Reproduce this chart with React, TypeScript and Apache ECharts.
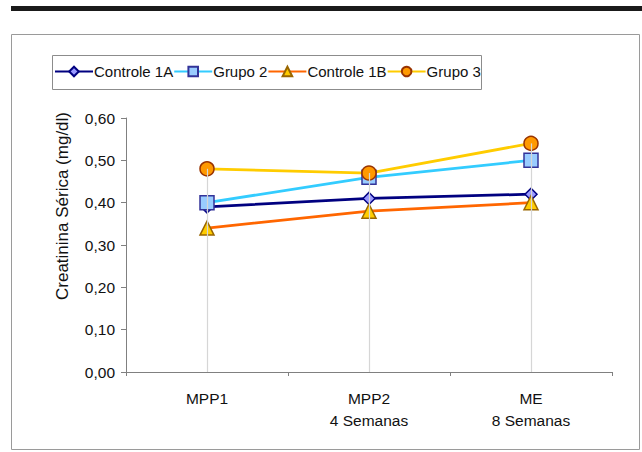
import React, { useEffect, useRef } from "react";
import * as echarts from "echarts";

const categories = ["MPP1", "MPP2\n4 Semanas", "ME\n8 Semanas"];
const controle1A = [0.39, 0.41, 0.42];
const grupo2 = [0.4, 0.46, 0.5];
const controle1B = [0.34, 0.38, 0.4];
const grupo3 = [0.48, 0.47, 0.54];
const yTicks = [0, 0.1, 0.2, 0.3, 0.4, 0.5, 0.6];

const FONT = "Liberation Sans, Arial, sans-serif";

export default function App() {
  const ref = useRef<HTMLDivElement>(null);
  useEffect(() => {
    document.body.style.margin = "0";
    const chart = echarts.init(ref.current!, undefined, { renderer: "svg" });
    const maxes = categories.map((_, i) =>
      Math.max(controle1A[i], grupo2[i], controle1B[i], grupo3[i])
    );
    const mk = (
      name: string,
      data: number[],
      line: string,
      symbol: string,
      size: number,
      fill: string,
      border: string
    ) => ({
      name,
      type: "line",
      data,
      symbol,
      symbolSize: size,
      showAllSymbol: true,
      z: 3,
      lineStyle: { color: line, width: 2.75 },
      itemStyle: { color: fill, borderColor: border, borderWidth: 1.5 },
    });
    chart.setOption({
      animation: false,
      textStyle: { fontFamily: FONT },
      grid: { left: 126, right: 30, top: 118, bottom: 80, containLabel: false },
      legend: {
        left: 54,
        top: 64,
        orient: "horizontal",
        padding: 0,
        itemGap: 0,
        itemWidth: 38,
        itemHeight: 12,
        data: ["Controle 1A", "Grupo 2", "Controle 1B", "Grupo 3"],
        textStyle: { fontSize: 15, color: "#111", fontFamily: FONT, padding: [0, 0, 0, -4] },
      },
      xAxis: {
        type: "category",
        data: categories,
        boundaryGap: true,
        axisLine: { lineStyle: { color: "#808080", width: 1 } },
        axisTick: { show: true, length: 4, lineStyle: { color: "#808080" } },
        axisLabel: { color: "#111", fontSize: 15.5, margin: 15, lineHeight: 22, fontFamily: FONT },
        splitLine: { show: false },
      },
      yAxis: {
        type: "value",
        min: 0,
        max: 0.6,
        interval: 0.1,
        axisLine: { show: true, lineStyle: { color: "#808080", width: 1 } },
        axisTick: { show: true, length: 5, lineStyle: { color: "#808080" } },
        axisLabel: {
          color: "#111",
          fontSize: 15.5,
          margin: 11,
          fontFamily: FONT,
          formatter: (v: number) =>
            yTicks.some((t) => Math.abs(t - v) < 1e-9) ? v.toFixed(2).replace(".", ",") : "",
        },
        splitLine: { show: false },
      },
      series: [
        {
          name: "drop",
          type: "line",
          data: [],
          z: 1,
          silent: true,
          markLine: {
            silent: true,
            symbol: "none",
            label: { show: false },
            lineStyle: { color: "#d6d6d6", width: 1.2, type: "solid" },
            data: categories.map((c, i) => [
              { coord: [c, 0] },
              { coord: [c, maxes[i]] },
            ]),
          },
        },
        mk("Controle 1A", controle1A, "#000080", "diamond", 12, "#9999FF", "#000080"),
        mk("Grupo 2", grupo2, "#33CCFF", "rect", 14, "#99CCFF", "#333399"),
        mk("Controle 1B", controle1B, "#FF6600", "triangle", 14, "#FFCC00", "#996600"),
        mk("Grupo 3", grupo3, "#FFCC00", "circle", 14, "#FF9900", "#993300"),
      ],
      graphic: [
        { type: "rect", shape: { x: 11, y: 6, width: 631, height: 5 }, style: { fill: "#1a1a1a" } },
        {
          type: "rect",
          shape: { x: 11.5, y: 34.5, width: 628, height: 415 },
          style: { fill: "none", stroke: "#9a9a9a", lineWidth: 1 },
          z: -1,
        },
        {
          type: "rect",
          shape: { x: 52.5, y: 55.5, width: 429, height: 34 },
          style: { fill: "none", stroke: "#8c8c8c", lineWidth: 1 },
          z: -1,
        },
        {
          type: "text",
          x: 62,
          y: 206,
          rotation: Math.PI / 2,
          style: {
            text: "Creatinina Sérica (mg/dl)",
            fontSize: 17,
            fontFamily: FONT,
            fill: "#111",
            align: "center",
            verticalAlign: "middle",
          },
        },
      ],
    });
    return () => chart.dispose();
  }, []);
  return <div ref={ref} style={{ width: 642, height: 452 }} />;
}
